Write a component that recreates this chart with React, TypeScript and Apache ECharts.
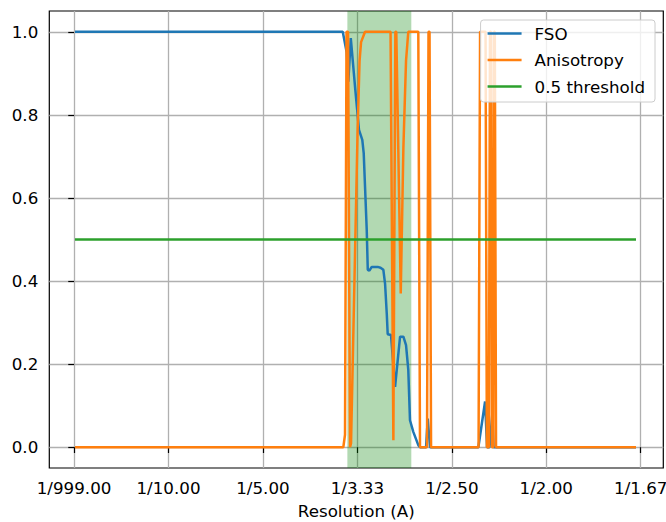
import React, { useEffect, useRef } from "react";
import * as echarts from "echarts";

const xTicks = [0, 0.1, 0.2, 0.3, 0.4, 0.5, 0.6];
const yTicks = [0, 0.2, 0.4, 0.6, 0.8, 1.0];

const fsoX = [0.001, 0.2845, 0.2887, 0.2904, 0.2930, 0.2975, 0.3017, 0.3052, 0.3067, 0.3099, 0.3110, 0.3127, 0.3152, 0.3215, 0.3245, 0.3275, 0.3293, 0.3311, 0.3321, 0.3356, 0.3399, 0.3452, 0.3487, 0.3515, 0.3539, 0.3557, 0.3592, 0.3645, 0.3663, 0.3727, 0.3745, 0.3769, 0.4281, 0.4352, 0.4373, 0.4399, 0.4429, 0.4442, 0.595];
const fsoY = [1.0, 1.0, 0.95, 0.88, 0.985, 0.868, 0.764, 0.740, 0.708, 0.523, 0.427, 0.425, 0.434, 0.434, 0.432, 0.427, 0.394, 0.322, 0.272, 0.270, 0.145, 0.266, 0.266, 0.246, 0.186, 0.065, 0.037, 0.005, 0, 0, 0.069, 0, 0, 0.11, 0, 0, 0.081, 0, 0];

const anisoX = [0.001, 0.2851, 0.2869, 0.2885, 0.2901, 0.2922, 0.2933, 0.3002, 0.3023, 0.3039, 0.3081, 0.3351, 0.3381, 0.3402, 0.3412, 0.3459, 0.3487, 0.3515, 0.3539, 0.3645, 0.3663, 0.3737, 0.3753, 0.3764, 0.3780, 0.4283, 0.4299, 0.4357, 0.4371, 0.4392, 0.4404, 0.4415, 0.4425, 0.4438, 0.4447, 0.4455, 0.4468, 0.595];
const anisoY = [0, 0, 0.03, 1, 1, 0, 0.01, 0.76, 0.93, 0.975, 1, 1, 0.017, 1, 1, 0.37, 0.72, 0.93, 1, 1, 0, 0, 1, 1, 0, 0, 1, 1, 0, 0, 1, 1, 0, 0, 1, 1, 0, 0];

const thresholdX = [0.001, 0.595];
const thresholdY = [0.5, 0.5];

const spanRange = [0.2894, 0.3571];

const FONT = "DejaVu Sans";

function pairs(xs: number[], ys: number[]) {
  return xs.map((x, i) => [x, ys[i]]);
}

export default function App() {
  const ref = useRef<HTMLDivElement>(null);
  useEffect(() => {
    if (!ref.current) return;
    const chart = echarts.init(ref.current, null, { renderer: "svg" });
    const lw = 2.5;
    chart.setOption({
      animation: false,
      backgroundColor: "#ffffff",
      textStyle: { fontFamily: FONT },
      grid: {
        left: 49.3,
        right: 2.7,
        top: 11,
        bottom: 54,
        containLabel: false,
        outerBoundsMode: "none",
        show: true,
        borderColor: "#000",
        borderWidth: 1.2,
        backgroundColor: "transparent",
      },
      legend: {
        orient: "vertical",
        right: 11,
        top: 20,
        padding: [5, 10, 7, 7],
        icon: "rect",
        itemWidth: 34,
        itemHeight: 2.5,
        itemGap: 9.5,
        backgroundColor: "rgba(255,255,255,0.8)",
        borderColor: "#cccccc",
        borderWidth: 1,
        borderRadius: 3,
        textStyle: { fontFamily: FONT, fontSize: 16.7, color: "#000", padding: [0, 0, 0, 8], lineHeight: 17 },
        data: ["FSO", "Anisotropy", "0.5 threshold"],
      },
      xAxis: {
        type: "value",
        min: -0.0262,
        max: 0.6239,
        name: "Resolution (A)",
        nameLocation: "middle",
        nameGap: 34,
        nameTextStyle: { fontFamily: FONT, fontSize: 16.7, color: "#000" },
        axisLine: { show: false },
        axisTick: { show: true, customValues: xTicks, length: 5.8, lineStyle: { color: "#000", width: 1.2 } },
        axisLabel: {
          customValues: xTicks,
          margin: 11,
          fontFamily: FONT,
          fontSize: 16.7,
          color: "#000",
          formatter: (v: number) => (Math.abs(v) < 1e-9 ? "1/999.00" : "1/" + (1 / v).toFixed(2)),
        },
        splitLine: { show: true, lineStyle: { color: "#b0b0b0", width: 1.3 } },
      },
      yAxis: {
        type: "value",
        min: -0.05,
        max: 1.05,
        axisLine: { show: false },
        axisTick: { show: true, customValues: yTicks, length: 5.8, lineStyle: { color: "#000", width: 1.2 } },
        axisLabel: {
          customValues: yTicks,
          margin: 11,
          fontFamily: FONT,
          fontSize: 16.7,
          color: "#000",
          formatter: (v: number) => v.toFixed(1),
        },
        splitLine: { show: true, lineStyle: { color: "#b0b0b0", width: 1.3 } },
      },
      series: [
        {
          name: "FSO",
          type: "line",
          data: pairs(fsoX, fsoY),
          symbol: "none",
          showSymbol: false,
          lineStyle: { color: "#1f77b4", width: lw },
          itemStyle: { color: "#1f77b4" },
          z: 2,
          markArea: {
            silent: true,
            z: 1,
            itemStyle: { color: "rgba(0,128,0,0.3)" },
            data: [[{ xAxis: spanRange[0] }, { xAxis: spanRange[1] }]],
          },
        },
        {
          name: "Anisotropy",
          type: "line",
          data: pairs(anisoX, anisoY),
          symbol: "none",
          showSymbol: false,
          lineStyle: { color: "#ff7f0e", width: lw },
          itemStyle: { color: "#ff7f0e" },
          z: 3,
        },
        {
          name: "0.5 threshold",
          type: "line",
          data: pairs(thresholdX, thresholdY),
          symbol: "none",
          showSymbol: false,
          lineStyle: { color: "#2ca02c", width: lw },
          itemStyle: { color: "#2ca02c" },
          z: 4,
        },
      ],
    });
    return () => chart.dispose();
  }, []);
  return <div ref={ref} style={{ position: "absolute", left: 0, top: 0, width: 666, height: 522 }} />;
}
